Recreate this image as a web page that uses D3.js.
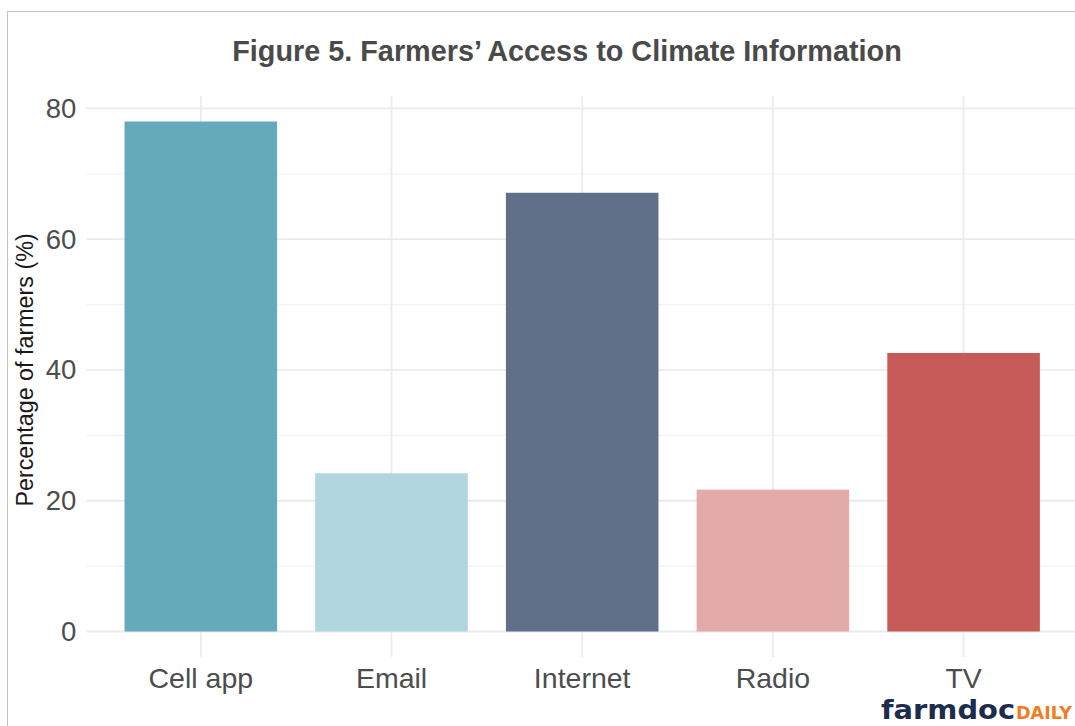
<!DOCTYPE html>
<html>
<head>
<meta charset="utf-8">
<script src="https://cdn.jsdelivr.net/npm/d3@7"></script>
<style>
  html, body { margin: 0; padding: 0; background: #ffffff; }
  svg { display: block; }
</style>
</head>
<body>
<svg id="chart" width="1075" height="726"></svg>
<script>
// Survey categories and share of farmers using each channel (%)
const categories = ["Cell app", "Email", "Internet", "Radio", "TV"];
const percentages = [78.0, 24.2, 67.1, 21.7, 42.6];
const barColors = ["#64aabb", "#b1d6de", "#617089", "#e3aaaa", "#c65a58"];
const majorTicks = [0, 20, 40, 60, 80];
const minorTicks = [10, 30, 50, 70];

const titleText = "Figure 5. Farmers\u2019 Access to Climate Information";
const yTitleText = "Percentage of farmers (%)";

const svg = d3.select("#chart");
const W = 1075, H = 726;

// outer frame
svg.append("rect")
  .attr("x", 7.5).attr("y", 11.5)
  .attr("width", W + 10).attr("height", H + 10)
  .attr("fill", "#ffffff")
  .attr("stroke", "#c3c3c3").attr("stroke-width", 1);

const panel = { left: 86.4, right: 1078, top: 96, bottom: 657 };

// y range padded by 5% of the data range on each side
const yMax = d3.max(percentages);
const pad = yMax * 0.05;
const y = d3.scaleLinear()
  .domain([-pad, yMax + pad])
  .range([panel.bottom, panel.top]);

const x = d3.scaleBand()
  .domain(categories)
  .range([panel.left, panel.right])
  .paddingInner(0.2)
  .paddingOuter(0.2);

const g = svg.append("g");

// minor horizontal gridlines
g.selectAll(".minor")
  .data(minorTicks)
  .join("line")
  .attr("x1", panel.left).attr("x2", W)
  .attr("y1", d => y(d)).attr("y2", d => y(d))
  .attr("stroke", "#f3f3f3").attr("stroke-width", 1.2);

// major horizontal gridlines
g.selectAll(".major")
  .data(majorTicks)
  .join("line")
  .attr("x1", panel.left).attr("x2", W)
  .attr("y1", d => y(d)).attr("y2", d => y(d))
  .attr("stroke", "#ebebeb").attr("stroke-width", 1.8);

// vertical gridlines at category centres
g.selectAll(".vgrid")
  .data(categories)
  .join("line")
  .attr("x1", d => x(d) + x.bandwidth() / 2)
  .attr("x2", d => x(d) + x.bandwidth() / 2)
  .attr("y1", panel.top).attr("y2", panel.bottom)
  .attr("stroke", "#ebebeb").attr("stroke-width", 1.8);

// bars
g.selectAll(".bar")
  .data(categories)
  .join("rect")
  .attr("x", d => x(d))
  .attr("width", x.bandwidth())
  .attr("y", (d, i) => y(percentages[i]))
  .attr("height", (d, i) => y(0) - y(percentages[i]))
  .attr("fill", (d, i) => barColors[i]);

// y axis labels
const yAxis = d3.axisLeft(y).tickValues(majorTicks).tickSize(0).tickPadding(0);
const yg = svg.append("g")
  .attr("transform", `translate(${panel.left - 10},0)`)
  .call(yAxis);
yg.select(".domain").remove();
yg.selectAll("text")
  .attr("font-family", "'Liberation Sans', Arial, sans-serif")
  .attr("font-size", 27.5)
  .attr("fill", "#4d4d4d");

// x axis labels
const xAxis = d3.axisBottom(x).tickSize(0).tickPadding(0);
const xg = svg.append("g")
  .attr("transform", `translate(0,${panel.bottom + 11})`)
  .call(xAxis);
xg.select(".domain").remove();
xg.selectAll("text")
  .attr("font-family", "'Liberation Sans', Arial, sans-serif")
  .attr("font-size", 28.5)
  .attr("fill", "#4d4d4d");

// y axis title
svg.append("text")
  .attr("transform", `translate(33,${(y(0) + y(80)) / 2 + 0}) rotate(-90)`)
  .attr("text-anchor", "middle")
  .attr("font-family", "'Liberation Sans', Arial, sans-serif")
  .attr("font-size", 23.3)
  .attr("fill", "#1a1a1a")
  .text(yTitleText);

// chart title
svg.append("text")
  .attr("x", 567).attr("y", 61)
  .attr("text-anchor", "middle")
  .attr("font-family", "'Liberation Sans', Arial, sans-serif")
  .attr("font-weight", "bold")
  .attr("font-size", 28.8)
  .attr("fill", "#4a4a4a")
  .text(titleText);

// farmdoc daily wordmark
const logo = svg.append("text")
  .attr("x", 881).attr("y", 719)
  .attr("font-family", "'DejaVu Sans', Verdana, sans-serif")
  .attr("font-weight", "bold");
logo.append("tspan")
  .attr("font-size", 27)
  .attr("fill", "#1d2b4c")
  .attr("textLength", 134)
  .attr("lengthAdjust", "spacingAndGlyphs")
  .text("farmdoc");
logo.append("tspan")
  .attr("font-size", 17)
  .attr("fill", "#f07d22")
  .attr("dx", 1)
  .attr("textLength", 56)
  .attr("lengthAdjust", "spacingAndGlyphs")
  .text("DAILY");
</script>
</body>
</html>
